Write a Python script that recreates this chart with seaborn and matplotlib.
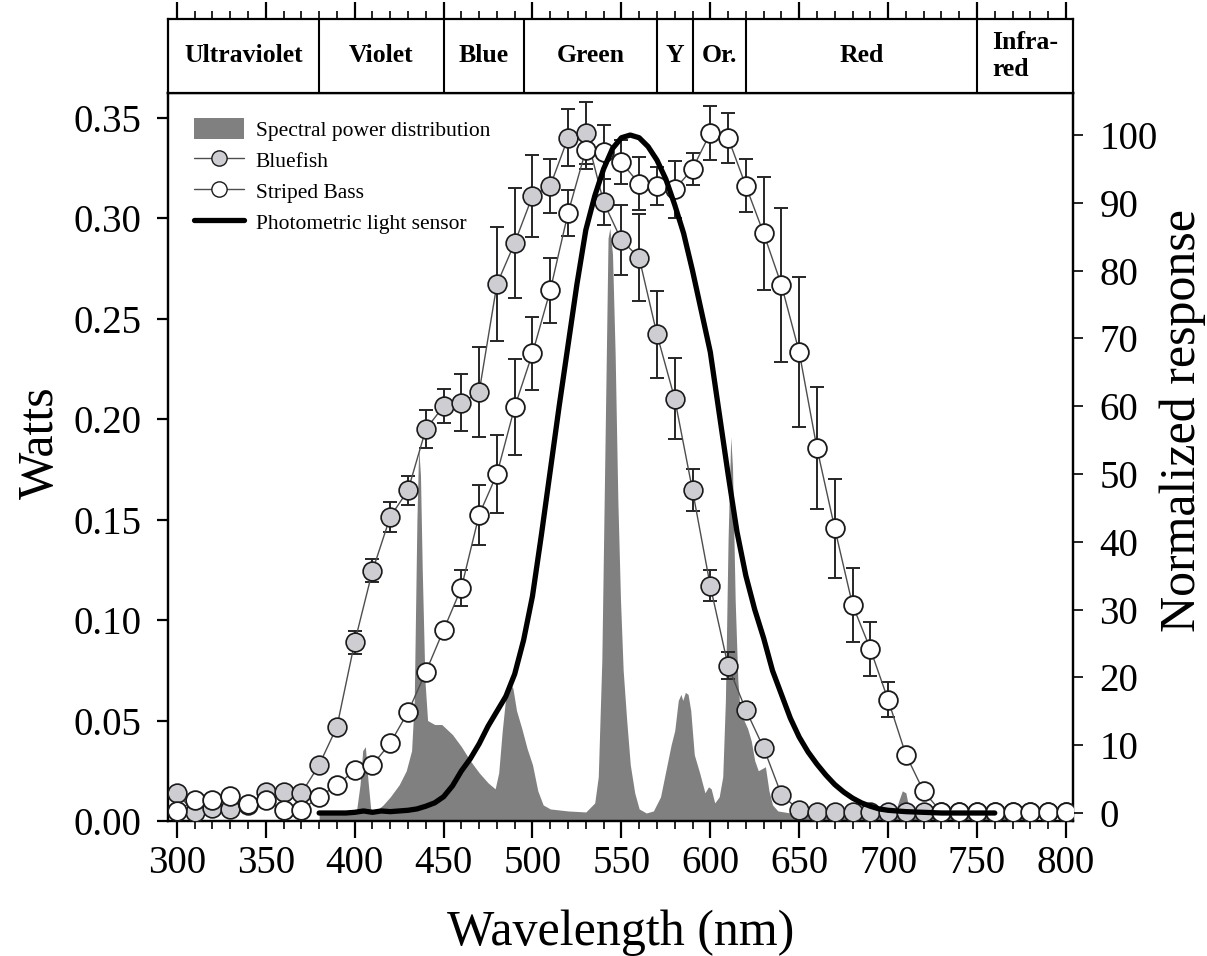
import numpy as np
import matplotlib
matplotlib.use("Agg")
import matplotlib.pyplot as plt
import seaborn as sns
from matplotlib.patches import Patch
from matplotlib.lines import Line2D
from matplotlib.ticker import MultipleLocator, FormatStrFormatter

# ---------------- data ----------------
wavelength = list(range(300, 801, 10))

bluefish = [2.9, 0.1, 0.7, 0.6, 1.2, 3.1, 3.1, 2.9, 7.1, 12.7,
            25.2, 35.7, 43.7, 47.6, 56.6, 60.0, 60.5, 62.1, 78.0, 84.1,
            91.0, 92.5, 99.6, 100.3, 90.1, 84.5, 81.9, 70.6, 61.1, 47.6,
            33.5, 21.7, 15.2, 9.6, 2.7, 0.4, 0.2, 0.2, 0.2, 0.2,
            0.2, 0.2, 0.2, 0.2, 0.2, 0.2, 0.2, 0.2, 0.2, 0.2, 0.2]
bluefish_err = [0, 0, 0, 0, 0, 0, 0, 0, 0, 0,
                1.7, 1.7, 2.2, 2.1, 2.8, 2.5, 4.2, 6.7, 8.4, 8.1,
                6.1, 4.0, 4.2, 4.5, 3.4, 5.2, 6.4, 6.4, 6.0, 3.1,
                2.3, 2.0, 1.0, 0, 0, 0, 0, 0, 0, 0,
                0, 0, 0, 0, 0, 0, 0, 0, 0, 0, 0]

bass = [0.3, 1.9, 1.9, 2.5, 1.4, 1.9, 0.4, 0.4, 2.4, 4.1,
        6.3, 7.1, 10.3, 14.9, 20.8, 27.0, 33.2, 44.0, 50.0, 59.9,
        67.8, 77.1, 88.5, 97.8, 97.5, 96.0, 92.8, 92.5, 92.0, 95.0,
        100.3, 99.6, 92.5, 85.5, 77.9, 68.0, 53.8, 42.0, 30.7, 24.2,
        16.7, 8.6, 3.2, 0.1, 0.1, 0.1, 0.1, 0.1, 0.1, 0.1, 0.1]
bass_err = [0, 0, 0, 0, 0, 0, 0, 0, 0, 0,
            0, 0, 0, 0, 0, 0, 2.6, 4.4, 5.7, 7.1,
            5.4, 4.8, 3.4, 2.8, 4.0, 3.2, 3.9, 2.8, 4.2, 2.3,
            4.0, 3.7, 3.9, 8.3, 11.4, 11.1, 9.0, 7.3, 5.5, 4.0,
            2.6, 0, 0, 0, 0, 0, 0, 0, 0, 0, 0]

sensor_nm = [380, 385, 390, 395, 400, 405, 410, 415, 420, 425,
             430, 435, 440, 445, 450, 455, 460, 465, 470, 475,
             480, 485, 490, 495, 500, 505, 510, 515, 520, 525,
             530, 535, 540, 545, 550, 555, 560, 565, 570, 575,
             580, 585, 590, 595, 600, 605, 610, 615, 620, 625,
             630, 635, 640, 645, 650, 655, 660, 665, 670, 675,
             680, 685, 690, 695, 700, 710, 720, 730, 740, 750, 760]
sensor_resp = [0.0, 0.0, 0.0, 0.0, 0.1, 0.3, 0.1, 0.3, 0.2, 0.3,
               0.4, 0.6, 1.0, 1.5, 2.4, 4.0, 6.2, 8.0, 10.2, 12.8,
               15.0, 17.2, 20.5, 25.5, 32.0, 41.0, 50.5, 60.0, 69.0, 78.0,
               86.0, 91.0, 95.0, 98.0, 99.6, 100.0, 99.6, 98.3, 96.3, 93.5,
               89.7, 85.5, 80.0, 74.0, 68.0, 59.0, 50.0, 41.5, 35.0, 30.0,
               25.8, 21.0, 17.5, 14.0, 11.2, 9.0, 7.2, 5.6, 4.2, 3.1,
               2.2, 1.5, 1.0, 0.6, 0.4, 0.2, 0.1, 0.0, 0.0, 0.0, 0.0]

spd_nm = [380, 390, 398, 401, 403, 404.5, 406, 407.5, 409, 412,
          416, 420, 425, 429, 432, 433.5, 435, 436, 437, 438,
          439.5, 441, 445, 449, 455, 460, 465, 470, 475, 479,
          481, 483, 485, 487, 489, 491, 494, 497, 500, 503,
          506, 510, 520, 530, 535, 537, 539, 541, 542.5, 543.5,
          545, 546.5, 548, 549.5, 551, 553, 555, 557.5, 560, 564,
          568, 572, 575, 578, 580, 582, 583.5, 584.5, 586, 587.5,
          589, 591, 594, 597, 599, 600.5, 602.5, 605, 607, 608.5,
          610, 611.5, 612.5, 614, 615.5, 617, 619, 621, 623, 625,
          627, 629, 631, 633, 635, 638, 645, 660, 680, 700,
          704, 706, 708, 710, 712, 716, 730, 750, 780]
spd_w = [0.004, 0.004, 0.004, 0.005, 0.018, 0.035, 0.037, 0.020, 0.006, 0.005,
         0.008, 0.012, 0.018, 0.025, 0.035, 0.060, 0.150, 0.186, 0.172, 0.125,
         0.070, 0.050, 0.048, 0.048, 0.043, 0.037, 0.030, 0.024, 0.019, 0.016,
         0.024, 0.045, 0.062, 0.069, 0.066, 0.055, 0.046, 0.036, 0.028, 0.015,
         0.008, 0.006, 0.005, 0.0045, 0.009, 0.022, 0.080, 0.200, 0.290, 0.295,
         0.282, 0.232, 0.160, 0.110, 0.075, 0.050, 0.028, 0.014, 0.006, 0.004,
         0.005, 0.012, 0.025, 0.038, 0.045, 0.060, 0.063, 0.060, 0.064, 0.063,
         0.055, 0.033, 0.024, 0.014, 0.017, 0.016, 0.009, 0.012, 0.022, 0.060,
         0.140, 0.191, 0.176, 0.110, 0.070, 0.052, 0.050, 0.046, 0.040, 0.030,
         0.025, 0.026, 0.027, 0.015, 0.008, 0.005, 0.004, 0.003, 0.003, 0.003,
         0.004, 0.010, 0.015, 0.014, 0.005, 0.003, 0.003, 0.002, 0.002]

band_labels = ["Ultraviolet", "Violet", "Blue", "Green", "Y", "Or.", "Red", "Infra-\nred"]
band_edges = [295, 380, 450, 495, 570, 590, 620, 750, 804]

legend_labels = ["Spectral power distribution", "Bluefish", "Striped Bass",
                 "Photometric light sensor"]

# ---------------- style ----------------
sns.set_theme(style="ticks")
plt.rcParams["font.family"] = ["Liberation Serif", "DejaVu Serif"]
plt.rcParams["axes.edgecolor"] = "black"
plt.rcParams["axes.labelcolor"] = "black"
plt.rcParams["text.color"] = "black"
plt.rcParams["xtick.color"] = "black"
plt.rcParams["ytick.color"] = "black"

W, H = 1207, 956
fig = plt.figure(figsize=(W / 100, H / 100), dpi=100)
L, R = 168 / W, 1073 / W
B, T = 1 - 821 / H, 1 - 93 / H
TB = 1 - 19 / H

ax = fig.add_axes([L, B, R - L, T - B])
ax2 = ax.twinx()
axb = fig.add_axes([L, T, R - L, TB - T])

SPD_COLOR = "#808080"
GRAY_FACE = "#cdcdd2"

# spectral power distribution (left axis)
ax.fill_between(spd_nm, 0, spd_w, color=SPD_COLOR, lw=0, zorder=1)

# error bars (right axis)
x = np.array(wavelength)
for vals, errs in [(bluefish, bluefish_err), (bass, bass_err)]:
    v = np.array(vals)
    e = np.array(errs)
    m = e > 0
    ax2.errorbar(x[m], v[m], yerr=e[m], fmt="none", ecolor="#262626",
                 elinewidth=1.4, capsize=5, capthick=1.4, zorder=2)

sns.lineplot(x=wavelength, y=bluefish, ax=ax2, color="#4d4d4d", lw=1.0,
             marker="o", markersize=13.5, markerfacecolor=GRAY_FACE,
             markeredgecolor="#1a1a1a", markeredgewidth=1.2, zorder=3)
sns.lineplot(x=wavelength, y=bass, ax=ax2, color="#4d4d4d", lw=1.0,
             marker="o", markersize=13.5, markerfacecolor="white",
             markeredgecolor="#1a1a1a", markeredgewidth=1.3, zorder=4)
sns.lineplot(x=sensor_nm, y=sensor_resp, ax=ax2, color="black", lw=3.8,
             zorder=6)

# ---------------- axes ----------------
ax.set_xlim(295, 804)
ax.set_ylim(0, 0.3622)
ax2.set_ylim(-1.18, 106.2)

ax.xaxis.set_major_locator(MultipleLocator(50))
ax.xaxis.set_minor_locator(MultipleLocator(10))
ax.set_xticks(range(300, 801, 50))
ax.yaxis.set_major_locator(MultipleLocator(0.05))
ax.yaxis.set_major_formatter(FormatStrFormatter("%.2f"))
ax2.set_yticks(range(0, 101, 10))

ax.tick_params(axis="x", which="major", direction="out", length=12, width=1.6,
               labelsize=28, pad=5)
ax.tick_params(axis="x", which="minor", direction="out", length=6, width=1.2)
ax.tick_params(axis="y", direction="out", length=8, width=1.6, labelsize=28, pad=11)
ax2.tick_params(axis="y", direction="out", length=7, width=1.2, labelsize=28, pad=12)

for s in ax.spines.values():
    s.set_linewidth(1.6)
    s.set_color("black")
for s in ax2.spines.values():
    s.set_linewidth(1.6)
    s.set_color("black")

ax.set_xlabel("Wavelength (nm)", fontsize=36)
ax.xaxis.set_label_coords(0.5, -0.153)
ax.xaxis.label.set_verticalalignment("center")
ax.set_ylabel("Watts", fontsize=36)
ax.yaxis.set_label_coords(-0.141, 0.52)
ax.yaxis.label.set_verticalalignment("center")
ax2.set_ylabel("Normalized response", fontsize=36)
ax2.yaxis.set_label_coords(1.1215, 0.55)
ax2.yaxis.label.set_verticalalignment("center")

# ---------------- band strip ----------------
axb.set_xlim(295, 804)
axb.set_ylim(0, 1)
axb.set_yticks([])
axb.xaxis.tick_top()
axb.xaxis.set_major_locator(MultipleLocator(50))
axb.xaxis.set_minor_locator(MultipleLocator(10))
axb.set_xticks(range(300, 801, 50))
axb.tick_params(axis="x", which="major", direction="out", length=12, width=1.6,
                labeltop=False, labelbottom=False)
axb.tick_params(axis="x", which="minor", direction="out", length=6, width=1.2)
for s in axb.spines.values():
    s.set_linewidth(1.6)
    s.set_color("black")
for edge in band_edges[1:-1]:
    axb.axvline(edge, color="black", lw=1.5)
for lab, lo, hi in zip(band_labels, band_edges[:-1], band_edges[1:]):
    axb.text((lo + hi) / 2, 0.5, lab, ha="center", va="center", fontsize=18.5,
             fontweight="bold", multialignment="left", linespacing=1.2)

# ---------------- legend ----------------
handles = [
    Patch(facecolor=SPD_COLOR, edgecolor="none"),
    Line2D([], [], color="#4d4d4d", lw=1.0, marker="o", markersize=11,
           markerfacecolor=GRAY_FACE, markeredgecolor="#1a1a1a"),
    Line2D([], [], color="#4d4d4d", lw=1.0, marker="o", markersize=11,
           markerfacecolor="white", markeredgecolor="#1a1a1a"),
    Line2D([], [], color="black", lw=3.8),
]
leg = ax2.legend(handles, legend_labels, loc="upper left",
                 bbox_to_anchor=(0.029, 0.966), frameon=False, fontsize=15.5,
                 handlelength=2.3, handleheight=1.15, handletextpad=0.55,
                 labelspacing=0.38, borderpad=0, borderaxespad=0)
leg.set_zorder(10)

fig.savefig("out.png", dpi=100)
